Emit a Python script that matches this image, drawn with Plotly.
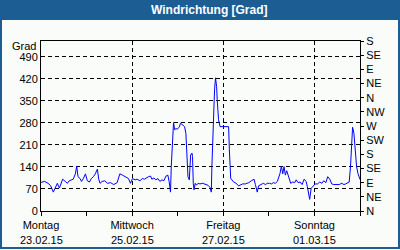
import pandas as pd
import plotly.graph_objects as go

# ---- data ----
start = "2015-02-23 00:00"
hours = [0, 1.95, 3.7, 5.1, 6.5, 7.5, 8.6, 9.7, 10.7, 11.4, 12.8, 13.9, 14.9, 16.0, 17.0, 18.1, 18.8, 19.5,
         20.6, 21.3, 22.3, 23.4, 24.4, 25.5, 26.5, 27.6, 28.6, 29.7, 30.4, 31.1, 32.2, 33.6, 35.0, 36.6,
         38.3, 40.1, 41.5, 42.9, 44.7, 46.1, 47.1, 48.2, 49.6, 50.6, 52.1, 53.4, 54.5, 55.5, 56.6, 57.7,
         58.4, 59.5, 60.5, 61.6, 62.6, 63.7, 64.7, 65.8, 66.8, 67.5, 67.9, 68.2, 68.6, 69.3, 69.8, 70.4,
         71.1, 71.7, 72.8, 73.5, 74.5, 75.6, 76.3, 77.0, 77.4, 78.1, 78.4, 78.8, 79.5, 79.8, 80.2, 80.6,
         81.2, 81.9, 82.7, 83.7, 85.1, 86.5, 87.9, 89.0, 89.7, 90.0, 90.7, 91.4, 91.9, 92.5, 92.8, 93.2,
         93.5, 94.3, 95.6, 97.1, 98.1, 98.8, 99.2, 99.9, 101.3, 102.7, 104.1, 105.1, 106.2, 107.6, 109.4,
         110.8, 112.2, 112.9, 113.9, 114.6, 115.7, 117.1, 118.2, 119.2, 120.3, 121.3, 122.4, 123.4, 124.5,
         125.2, 125.9, 126.6, 127.3, 128.0, 128.7, 129.4, 130.5, 131.5, 132.6, 133.6, 134.4, 135.4, 136.5,
         137.5, 138.6, 139.6, 140.3, 140.9, 141.5, 142.3, 143.0, 144.4, 145.7, 146.8, 147.9, 148.9, 150.0,
         151.0, 152.1, 153.1, 154.2, 155.6, 157.0, 158.4, 159.5, 160.5, 161.6, 162.3, 163.0, 163.7, 164.1,
         164.8, 165.1, 165.8, 166.2, 166.9, 167.6, 168.0]
direction = [91, 94, 88, 80, 60, 75, 88, 73, 88, 101, 94, 88, 96, 99, 101, 118, 143, 109,
             103, 94, 103, 118, 96, 92, 103, 109, 118, 133, 101, 88, 94, 96, 88, 90,
             84, 90, 118, 114, 109, 103, 88, 103, 99, 101, 96, 103, 101, 105, 109, 111,
             101, 105, 99, 103, 94, 99, 96, 111, 114, 93, 77, 60, 141, 205, 281, 258,
             262, 260, 266, 279, 274, 268, 247, 173, 109, 99, 141, 178, 184, 173, 88, 67,
             88, 82, 88, 86, 88, 86, 82, 75, 60, 141, 279, 385, 423, 395, 353, 321,
             290, 268, 268, 268, 270, 268, 194, 104, 93, 88, 80, 82, 86, 86, 90,
             96, 101, 84, 60, 80, 84, 88, 84, 88, 88, 86, 90, 88, 94,
             105, 120, 143, 118, 141, 114, 128, 103, 88, 92, 90, 99, 90, 92,
             84, 101, 94, 77, 56, 37, 72, 77, 86, 86, 92, 88, 96, 90,
             109, 101, 86, 84, 84, 84, 88, 84, 86, 90, 92, 141, 226, 266,
             247, 226, 162, 141, 120, 103, 100]

day_ticks = ["2015-02-23", "2015-02-25", "2015-02-27", "2015-03-01"]
day_names = ["Montag", "Mittwoch", "Freitag", "Sonntag"]
day_dates = ["23.02.15", "25.02.15", "27.02.15", "01.03.15"]
left_ticks = [0, 70, 140, 210, 280, 350, 420, 490]
right_ticks = [0, 45, 90, 135, 180, 225, 270, 315, 360, 405, 450, 495, 540]
right_labels = ["N", "NE", "E", "SE", "S", "SW", "W", "NW", "N", "NE", "E", "SE", "S"]

times = pd.Timestamp(start) + pd.to_timedelta(hours, unit="h")

BLUE = "#1c5e93"
FONT = "Liberation Sans"
W, H = 400, 250
L, R, T, B = 41, 40, 41, 39
pw, ph = W - L - R, H - T - B


def px(x):
    return (x - L) / pw


def py(y):
    return (H - B - y) / ph


fig = go.Figure()
fig.add_trace(go.Scatter(x=times, y=direction, mode="lines",
                         line=dict(color="#0000ff", width=1), showlegend=False))
fig.add_trace(go.Scatter(x=[times[0]], y=[0], yaxis="y2", mode="markers",
                         marker=dict(opacity=0), showlegend=False, hoverinfo="skip"))

grid = dict(gridcolor="black", griddash="4px,3px", gridwidth=1)
fig.update_layout(
    width=W, height=H,
    margin=dict(l=L, r=R, t=T, b=B, pad=0),
    paper_bgcolor="#fafcfa", plot_bgcolor="#fafcfa",
    font=dict(family=FONT, size=11, color="black"),
    xaxis=dict(type="date", range=[pd.Timestamp("2015-02-23"), pd.Timestamp("2015-03-02")],
               tickvals=day_ticks, ticktext=day_names, ticks="outside", ticklen=4,
               tickcolor="black", showline=True, linecolor="black", mirror=True,
               showgrid=True, zeroline=False,
               minor=dict(dtick=86400000, tick0="2015-02-23", ticks="outside", ticklen=4,
                          tickcolor="black", showgrid=False),
               **grid),
    yaxis=dict(range=[0, 540], tickvals=left_ticks, ticks="", showline=True,
               linecolor="black", mirror=True, showgrid=True, zeroline=False, **grid),
    yaxis2=dict(range=[0, 540], overlaying="y", side="right", tickvals=right_ticks,
                ticktext=right_labels, ticks="outside", ticklen=3, tickcolor="black",
                showgrid=False, zeroline=False, showline=False),
)

shapes = [
    dict(type="rect", xref="paper", yref="paper", x0=px(0), x1=px(W), y0=py(20), y1=py(0),
         fillcolor=BLUE, line=dict(width=0), layer="below"),
    dict(type="rect", xref="paper", yref="paper", x0=px(1), x1=px(W - 1), y0=py(H - 2), y1=py(1),
         fillcolor="rgba(0,0,0,0)", line=dict(color=BLUE, width=2), layer="above"),
]
fig.update_layout(shapes=shapes)

ann = [
    dict(text="<b>Windrichtung [Grad]</b>", xref="paper", yref="paper", x=px(209), y=py(10),
         showarrow=False, font=dict(color="white", size=12, family=FONT),
         xanchor="center", yanchor="middle"),
    dict(text="Grad", xref="paper", yref="paper", x=px(38), y=py(46), showarrow=False,
         xanchor="right", yanchor="middle"),
]
for d, t in zip(day_ticks, day_dates):
    ann.append(dict(text=t, xref="x", yref="paper", x=d, y=py(240), showarrow=False,
                    xanchor="center", yanchor="middle"))
fig.update_layout(annotations=ann)

fig.write_html("out.html")
